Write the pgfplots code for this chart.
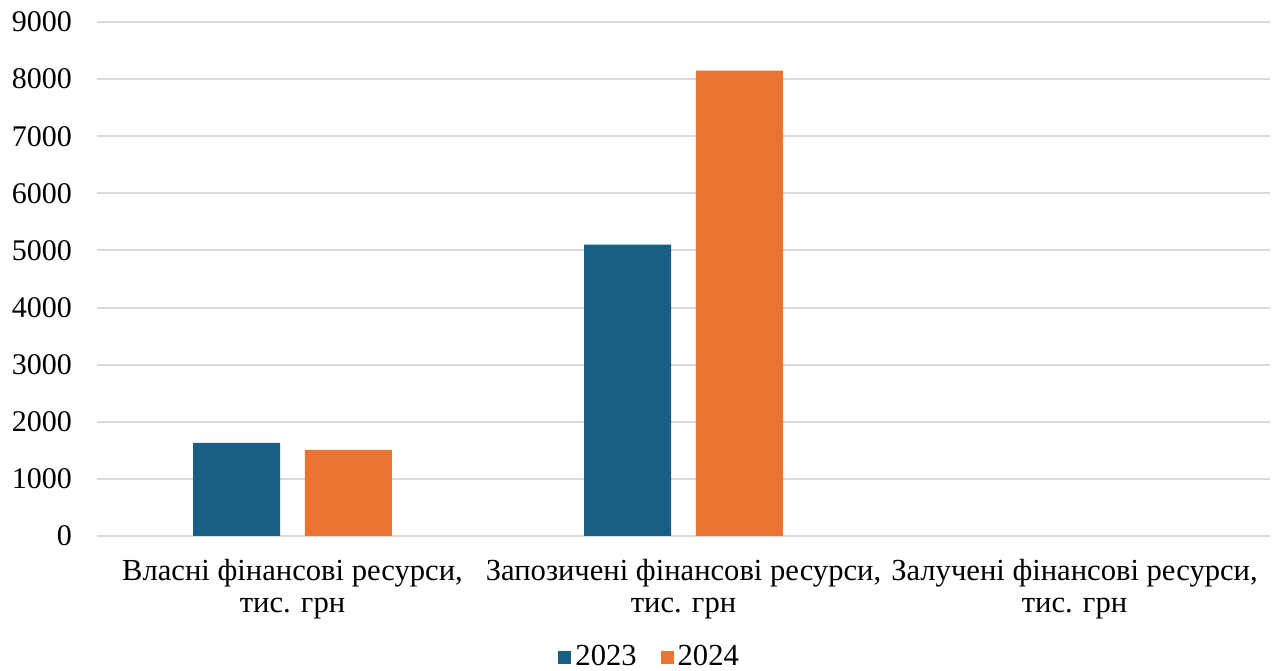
\documentclass[border=0pt]{standalone}
\usepackage{fontspec}
\setmainfont{Liberation Serif}
\usepackage{pgfplots}
\pgfplotsset{compat=1.18}

\definecolor{c2023}{HTML}{186083}
\definecolor{c2024}{HTML}{E97432}
\definecolor{gridc}{HTML}{D9D9D9}

\begin{document}
\begin{tikzpicture}[font=\fontsize{15.3}{16}\selectfont]
\begin{axis}[
    scale only axis,
    width=586.5pt, height=257pt,
    ybar, bar width=0.2225,
    xmin=-0.5, xmax=2.5,
    ymin=0, ymax=9000,
    ytick={0,1000,...,9000},
    xtick={0,1,2},
    xticklabels={{Власні фінансові ресурси,\\тис. грн},
                 {Запозичені фінансові ресурси,\\тис. грн},
                 {Залучені фінансові ресурси,\\тис. грн}},
    xticklabel style={align=center, yshift=-8pt},
    yticklabel style={xshift=-9pt, font=\fontsize{15}{16}\selectfont},
    /pgf/number format/assume math mode=true,
    /pgf/number format/1000 sep={},
    major tick length=0pt,
    axis lines*=left,
    x axis line style={gridc, line width=1pt},
    y axis line style={draw=none},
    ymajorgrids,
    grid style={gridc, line width=1pt},
    legend style={at={(0.472,-0.236)}, anchor=center, draw=none,
        legend columns=2, /tikz/every even column/.append style={column sep=10pt}},
    legend image code/.code={\fill[#1] (0pt,-3.25pt) rectangle (6.5pt,3.25pt);},
]
% third category (Залучені) is 0 in both years
\addplot[fill=c2023, draw=none, bar shift=-0.1432] coordinates {(0,1630) (1,5100)};
\addplot[fill=c2024, draw=none, bar shift=0.1432] coordinates {(0,1510) (1,8150)};
\legend{2023,2024}
\end{axis}
\pgfresetboundingbox
\path[use as bounding box] ([xshift=-48.5pt,yshift=-67.5pt]current axis.south west)
    rectangle ([xshift=4pt,yshift=11pt]current axis.north east);
\end{tikzpicture}
\end{document}
